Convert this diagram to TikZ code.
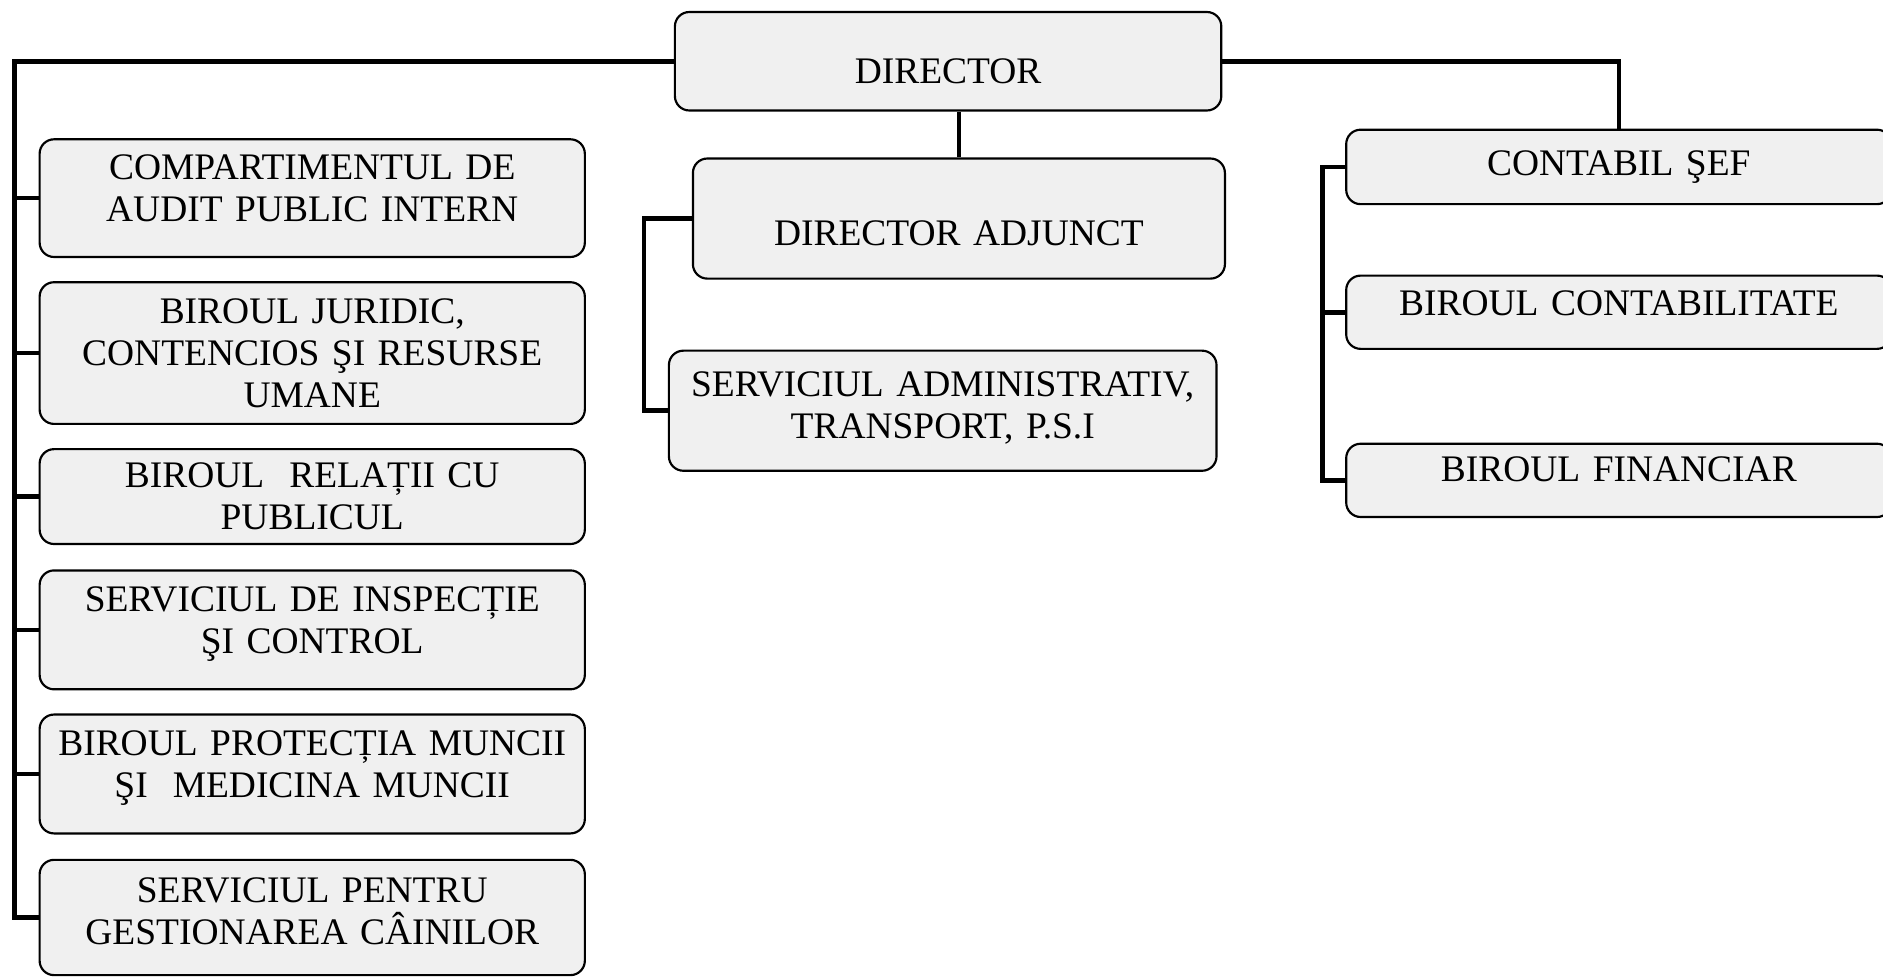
\documentclass[tikz,border=0pt]{standalone}
\usepackage{fontspec}
\setmainfont{Liberation Serif}
\usetikzlibrary{positioning}

% struts that push a box's text up (depth) or down (height)
\newcommand{\liftby}[1]{\rule[-#1]{0pt}{#1}}
\newcommand{\dropby}[1]{\rule{0pt}{#1}}

\begin{document}
\begin{tikzpicture}[x=0.5pt, y=-0.5pt,
  box/.style={draw, line width=0.9pt, rounded corners=6pt, fill=black!6,
    align=center, inner sep=0pt, font=\fontsize{15.6}{17.5}\selectfont},
  leftbox/.style={box, minimum width=227pt, text width=223pt},
  rightbox/.style={box, minimum width=227pt, minimum height=30.5pt, text width=223pt},
  link/.style={line width=1.9pt}]
\clip (0,0) rectangle (1568,813);

\def\xl{260}
\def\xd{789.5}
\def\xa{798.5}
\def\xs{785}
\def\xr{1348}

\def\ya{165}
\def\yb{294}
\def\yc{413.5}
\def\yd{524.5}
\def\ye{644.5}
\def\yf{764}

% top
\node[box, minimum width=227.5pt, minimum height=41pt] (director) at (\xd, 51) {\dropby{18.5pt}DIRECTOR};

% left column
\node[leftbox, minimum height=49pt] (audit) at (\xl, \ya) {COMPARTIMENTUL DE\\AUDIT PUBLIC INTERN\liftby{8pt}};
\node[leftbox, minimum height=59pt] (juridic) at (\xl, \yb) {BIROUL JURIDIC,\\CONTENCIOS ŞI RESURSE\\UMANE};
\node[leftbox, minimum height=39.5pt] (relatii) at (\xl, \yc) {BIROUL\ \ RELAȚII CU\\PUBLICUL};
\node[leftbox, minimum height=49.5pt] (inspectie) at (\xl, \yd) {SERVICIUL DE INSPECȚIE\\ŞI CONTROL\liftby{8pt}};
\node[leftbox, minimum height=49.5pt] (protectia) at (\xl, \ye) {BIROUL PROTECȚIA MUNCII\\ŞI\ \ MEDICINA MUNCII\liftby{8pt}};
\node[leftbox, minimum height=48pt] (caini) at (\xl, \yf) {SERVICIUL PENTRU\\GESTIONAREA CÂINILOR\liftby{5pt}};

% middle column
\node[box, minimum width=221.5pt, minimum height=50pt, text width=217pt] (adjunct) at (\xa, 182) {\dropby{22.5pt}DIRECTOR ADJUNCT};
\node[box, minimum width=228pt, minimum height=50pt, text width=224pt] (admin) at (\xs, 342) {SERVICIUL ADMINISTRATIV,\\TRANSPORT, P.S.I\liftby{5pt}};

% right column
\node[rightbox, minimum height=31pt] (contabil) at (\xr, 139) {CONTABIL ŞEF};
\node[rightbox] (contabilitate) at (\xr, 260) {BIROUL CONTABILITATE\liftby{8pt}};
\node[rightbox] (financiar) at (\xr, 400) {BIROUL FINANCIAR\liftby{9pt}};

% links
\coordinate (lbus) at (12, 51);
\draw[link] (director.west) -- (lbus) |- (caini.west);
\foreach \n in {audit, juridic, relatii, inspectie, protectia}
  \draw[link] (lbus |- \n.west) -- (\n.west);

\draw[link] (director.east) -| (contabil.north);
\draw[link] (adjunct.north) -- (adjunct.north |- director.south);

\draw[link] (adjunct.west) -- ++(-40,0) |- (admin.west);

\draw[link] (contabil.west) -- ++(-19,0) |- (financiar.west);
\draw[link] (contabilitate.west) -- ++(-19,0);

\end{tikzpicture}
\end{document}
